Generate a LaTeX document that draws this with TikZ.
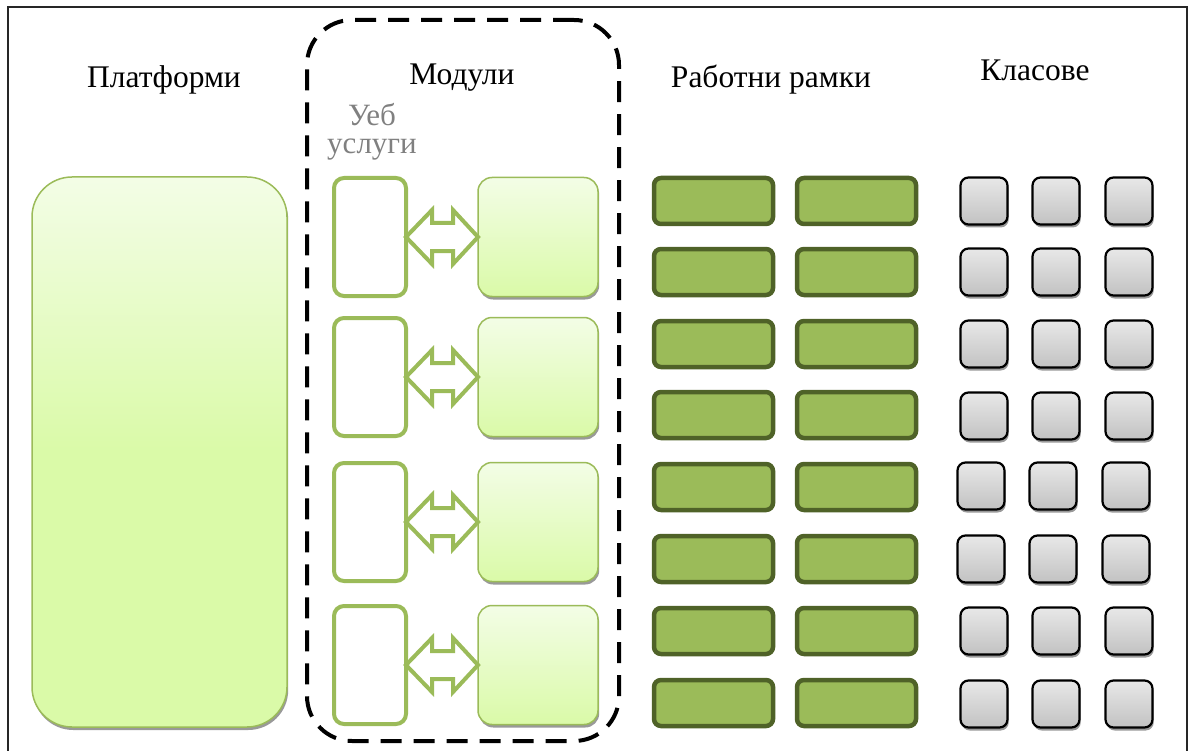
\documentclass[tikz,border=0pt]{standalone}
\usepackage{fontspec}
\setmainfont{Liberation Serif}
\usetikzlibrary{shadows}
\definecolor{lgreen}{HTML}{9BBB59}
\definecolor{dgreen}{HTML}{4F6228}
\definecolor{paletop}{HTML}{F3FDE6}
\definecolor{palebot}{HTML}{DAFAA8}
\definecolor{greytop}{HTML}{E8E8E8}
\definecolor{greybot}{HTML}{C2C2C2}
\tikzset{
  title/.style={font=\fontsize{31.5}{36}\selectfont, inner sep=0pt},
  svc/.style={font=\fontsize{31}{28}\selectfont, text=black!50, inner sep=0pt, align=center},
  myshadow/.style={drop shadow={shadow xshift=1.2pt, shadow yshift=-3pt, fill=black!40, opacity=1}},
  platbox/.style={draw=lgreen, line width=1.5pt, rounded corners=40pt, top color=paletop, bottom color=palebot, middle color=palebot, myshadow, minimum width=255pt, minimum height=550pt, inner sep=0pt, outer sep=0pt},
  modbox/.style={draw=lgreen, line width=1.5pt, rounded corners=14pt, top color=paletop, bottom color=palebot, myshadow, minimum width=120pt, minimum height=119pt, inner sep=0pt, outer sep=0pt},
  webbox/.style={draw=lgreen, line width=4pt, rounded corners=10pt, fill=white, minimum width=72pt, minimum height=118pt, inner sep=0pt, outer sep=0pt},
  frbox/.style={draw=dgreen, line width=4.5pt, rounded corners=7pt, fill=lgreen, minimum width=119pt, minimum height=46pt, inner sep=0pt, outer sep=0pt},
  clbox/.style={draw=black, line width=2.2pt, rounded corners=8pt, top color=greytop, bottom color=greybot, myshadow, minimum width=47pt, minimum height=47pt, inner sep=0pt, outer sep=0pt},
  dashbox/.style={draw=black, line width=4pt, dash pattern=on 21pt off 12pt, rounded corners=45pt, minimum width=312pt, minimum height=721pt, inner sep=0pt, outer sep=0pt},
  dblarrow/.style={draw=lgreen, line width=4pt, fill=white, line join=miter},
}
\begin{document}
\begin{tikzpicture}[x=1pt,y=-1pt]
\useasboundingbox (0,0) rectangle (1190,751);
% frame
\coordinate (fbl) at (8,760);
\coordinate (ftl) at (8,7);
\coordinate (ftr) at (1187,7);
\coordinate (fbr) at (1187,760);
\draw[line width=2pt, black!85] (fbl) -- (ftl) -- (ftr) -- (fbr);
% titles
\node[title] (tplat) at (164,80) {Платформи};
\node[title] (tmod) at (462,78) {Модули};
\node[title] (tfr) at (771,80) {Работни рамки};
\node[title] (tcl) at (1035,70) {Класове};
\node[svc] (tweb) at (372,132) {Уеб\\услуги};
% dashed modules box
\node[dashbox] (dash) at (463,380.5) {};
% platform
\node[platbox] (plat) at (159.5,452) {};
% modules
\foreach \i/\y in {1/237,2/377,3/522,4/665}{
  \node[webbox] (w\i) at (370,\y) {};
  \node[modbox] (m\i) at (538,\y) {};
  \draw[dblarrow] (w\i.east) -- ++(26,-27) -- ++(0,13) -- ++(21,0) -- ++(0,-13) -- (m\i.west)
     -- ++(-25,27) -- ++(0,-13) -- ++(-21,0) -- ++(0,13) -- cycle;
}
% frameworks
\foreach \i/\y in {1/201,2/272,3/344,4/415,5/487,6/559,7/631,8/703}{
  \node[frbox] (fa\i) at (713.5,\y) {};
  \node[frbox] (fb\i) at (856.5,\y) {};
}
% classes
\foreach \i/\y/\dx in {1/201/0,2/272/0,3/344/0,4/416/0,5/486/-3,6/559/-3,7/631/0,8/704/0}{
  \node[clbox] (ca\i) at (984+\dx,\y) {};
  \node[clbox] (cb\i) at (1056+\dx,\y) {};
  \node[clbox] (cc\i) at (1129+\dx,\y) {};
}
\end{tikzpicture}
\end{document}
